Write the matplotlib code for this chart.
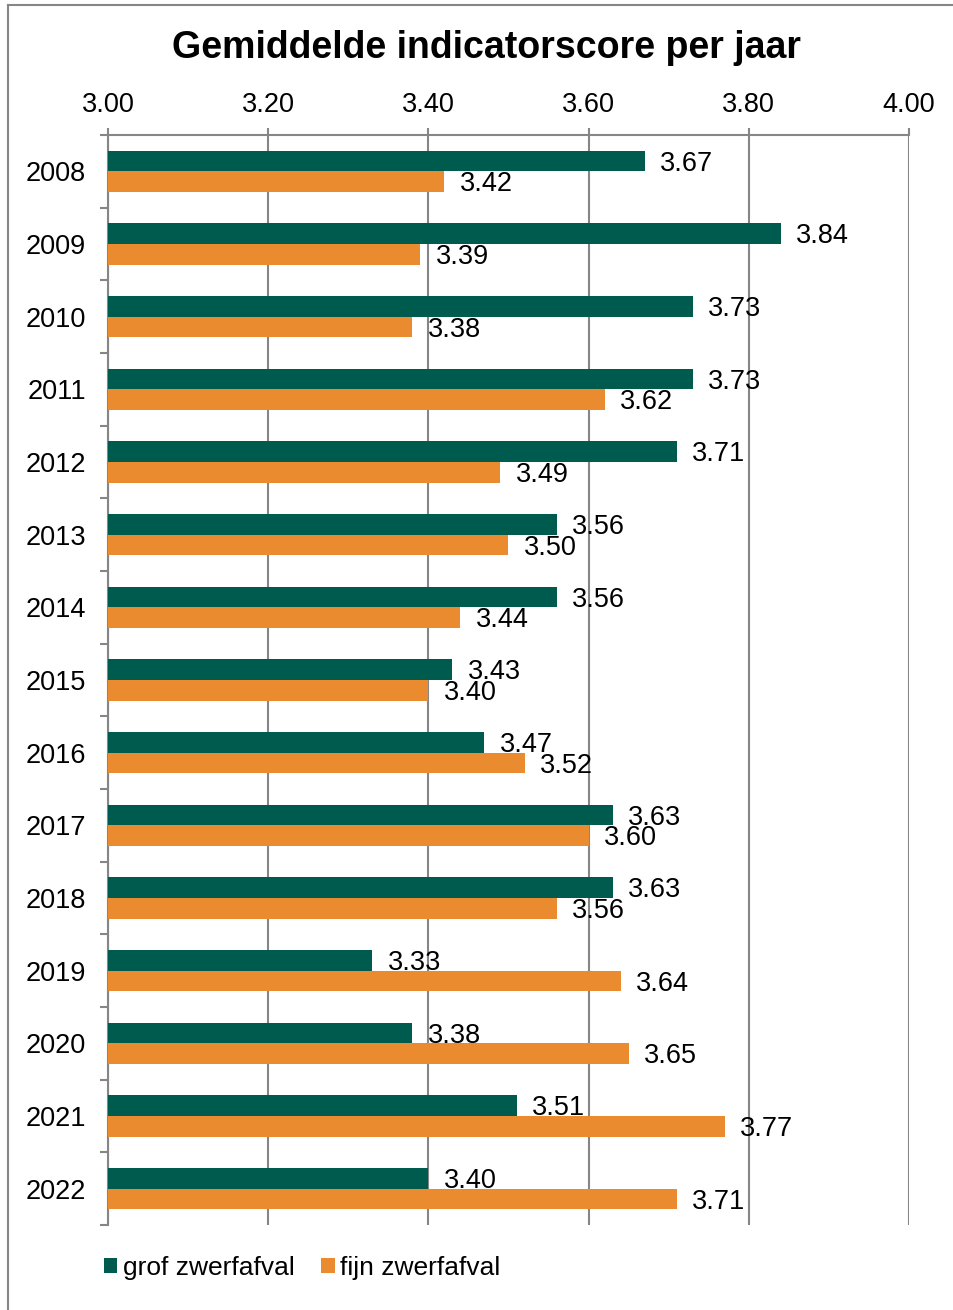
import numpy as np
import matplotlib.pyplot as plt
from matplotlib.lines import Line2D

plt.rcParams['font.family'] = ['Liberation Sans', 'DejaVu Sans']

years = ['2008', '2009', '2010', '2011', '2012', '2013', '2014', '2015',
         '2016', '2017', '2018', '2019', '2020', '2021', '2022']
grof = [3.67, 3.84, 3.73, 3.73, 3.71, 3.56, 3.56, 3.43, 3.47, 3.63, 3.63, 3.33, 3.38, 3.51, 3.40]
fijn = [3.42, 3.39, 3.38, 3.62, 3.49, 3.50, 3.44, 3.40, 3.52, 3.60, 3.56, 3.64, 3.65, 3.77, 3.71]

green = '#005B4F'
orange = '#EA8B2F'
grey = '#868686'
fs = 19.5

fig = plt.figure(figsize=(9.54, 13.10), dpi=100)
ax = fig.add_axes([108 / 954, 1 - 1225 / 1310, 801 / 954, 1090 / 1310])

y = np.arange(len(years))
h = 0.285
ax.barh(y - h / 2, np.array(grof) - 3, left=3, height=h, color=green, label='grof zwerfafval', zorder=3)
ax.barh(y + h / 2, np.array(fijn) - 3, left=3, height=h, color=orange, label='fijn zwerfafval', zorder=3)

for i in range(len(years)):
    ax.annotate(f'{grof[i]:.2f}', (grof[i], y[i] - h / 2), xytext=(11, -2), textcoords='offset points',
                va='center', ha='left', fontsize=fs, zorder=4)
    ax.annotate(f'{fijn[i]:.2f}', (fijn[i], y[i] + h / 2), xytext=(11, -2), textcoords='offset points',
                va='center', ha='left', fontsize=fs, zorder=4)

ax.set_xlim(3, 4)
ax.set_ylim(len(years) - 0.5, -0.5)
ax.set_xticks(np.arange(3.0, 4.01, 0.2))
ax.set_xticklabels([f'{v:.2f}' for v in np.arange(3.0, 4.01, 0.2)])
ax.xaxis.tick_top()
ax.set_yticks(y)
ax.set_yticklabels(years)
ax.set_yticks(np.arange(-0.5, len(years), 1), minor=True)
ax.tick_params(axis='y', which='major', length=0, pad=16, labelsize=fs)
ax.tick_params(axis='y', which='minor', length=6, width=1.5, color=grey)
ax.tick_params(axis='x', length=5, width=1.5, color=grey, labelsize=fs, pad=7)
ax.grid(axis='x', color=grey, linewidth=1.5, zorder=1)
ax.set_axisbelow(True)

for s in ['right', 'bottom']:
    ax.spines[s].set_visible(False)
for s in ['left', 'top']:
    ax.spines[s].set_color(grey)
    ax.spines[s].set_linewidth(1.5)

fig.text(487 / 954, 1 - 48 / 1310, 'Gemiddelde indicatorscore per jaar', ha='center', va='center',
         fontsize=27, fontweight='bold')

fig.legend(loc='center left', bbox_to_anchor=(80 / 954, 1 - 1268 / 1310), ncol=2, frameon=False,
           fontsize=19, handlelength=0.52, handleheight=0.52, handletextpad=0.2, columnspacing=1.0)

fig.add_artist(Line2D([8 / 954, 8 / 954], [0, 1 - 5 / 1310], color=grey, linewidth=1.5))
fig.add_artist(Line2D([8 / 954, 1], [1 - 5 / 1310, 1 - 5 / 1310], color=grey, linewidth=1.5))

fig.savefig('out.png', dpi=100)
